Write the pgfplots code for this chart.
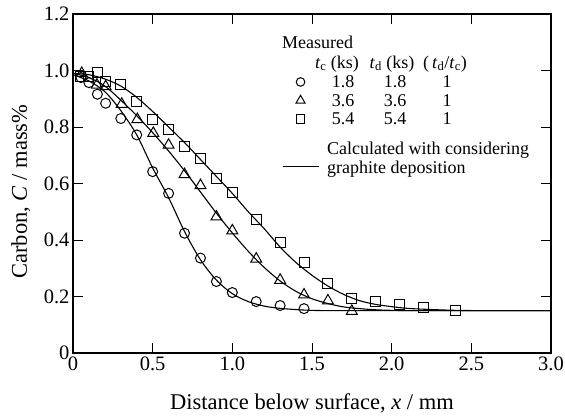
\documentclass[border=0pt]{standalone}
\usepackage{fontspec}
\setmainfont{Liberation Serif}
\usepackage{pgfplots}
\pgfplotsset{compat=1.18}
\pgfplotsset{
  markleg/.style={legend image code/.code={\path[draw=none,fill=none] (0pt,0pt) rectangle (36pt,0pt);
    \draw[##1, mark size=#1] plot coordinates {(18pt,6pt)};}},
  lineleg/.style={legend image code/.code={\draw[##1] (0pt,7pt) -- (36pt,7pt);}},
}

\begin{document}
\begin{tikzpicture}
\begin{axis}[
  scale only axis,
  width=478pt, height=339pt,
  xmin=0, xmax=3, ymin=0, ymax=1.2,
  xtick={0,0.5,...,3}, ytick={0,0.2,...,1.2},
  xticklabels={0,0.5,1.0,1.5,2.0,2.5,3.0},
  yticklabels={0,0.2,0.4,0.6,0.8,1.0,1.2},
  tick align=inside, tick pos=both,
  major tick length=10pt,
  tick style={black, line width=0.9pt},
  axis line style={line width=1.2pt},
  /pgf/number format/assume math mode=true,
  ticklabel style={font=\fontsize{20.5}{24}\selectfont},
  label style={font=\fontsize{22.5}{26}\selectfont},
  xlabel={Distance below surface, \textit{x} / mm},
  ylabel={Carbon, \textit{C} / mass\%},
  xlabel style={at={(rel axis cs:0.5,0)}, anchor=base, yshift=-57pt},
  ylabel style={at={([xshift=-46pt]rel axis cs:0,0.476)}, anchor=base},
  legend style={draw=none, fill=none, inner sep=0pt, outer sep=0pt,
    at={(axis cs:1.3117,0.9912)}, anchor=north west,
    font=\fontsize{18}{19}\selectfont, column sep=6pt, row sep=0pt,
    cells={anchor=base west, align=left, inner sep=0pt}},
  mark options={solid, fill=white, line width=1pt},
]
% calculated curves
\addplot[smooth, line width=1.1pt, forget plot] coordinates {
  (0,0.985) (0.1,0.963) (0.2,0.925) (0.3,0.858) (0.4,0.772) (0.5,0.655)
  (0.6,0.55) (0.7,0.43) (0.8,0.33) (0.9,0.258) (1.0,0.21) (1.1,0.182)
  (1.2,0.166) (1.3,0.158) (1.45,0.152) (1.6,0.15) (2.0,0.15) (3.0,0.15)
};
\addplot[smooth, line width=1.1pt, forget plot] coordinates {
  (0,0.99) (0.1,0.975) (0.2,0.945) (0.3,0.895) (0.4,0.84) (0.5,0.78)
  (0.6,0.715) (0.7,0.645) (0.8,0.57) (0.9,0.495) (1.0,0.425) (1.1,0.36)
  (1.2,0.303) (1.3,0.255) (1.4,0.218) (1.5,0.192) (1.6,0.175) (1.7,0.163)
  (1.8,0.157) (1.9,0.153) (2.0,0.151) (2.2,0.15) (3.0,0.15)
};
\addplot[smooth, line width=1.1pt, forget plot] coordinates {
  (0,0.99) (0.1,0.985) (0.2,0.97) (0.3,0.945) (0.4,0.905) (0.5,0.855)
  (0.6,0.8) (0.7,0.745) (0.8,0.685) (0.9,0.625) (1.0,0.565) (1.1,0.5)
  (1.2,0.44) (1.3,0.375) (1.4,0.32) (1.5,0.275) (1.6,0.237) (1.7,0.207)
  (1.8,0.185) (1.9,0.172) (2.0,0.164) (2.1,0.158) (2.2,0.155) (2.4,0.151)
  (2.6,0.15) (3.0,0.15)
};
% measured
\addplot[only marks, mark=o, mark size=5pt, markleg=4.3pt] coordinates {
  (0.05,0.975) (0.1,0.957) (0.153,0.916) (0.205,0.884) (0.3,0.83)
  (0.4,0.772) (0.5,0.642) (0.6,0.565) (0.7,0.424) (0.8,0.336)
  (0.9,0.253) (1.0,0.214) (1.15,0.182) (1.3,0.168) (1.45,0.157)
};
\addlegendentry{\rule[-6pt]{0pt}{19pt}\makebox[32pt]{1.8}\makebox[72pt]{1.8}\makebox[32pt]{1}}
\addplot[only marks, mark=triangle, mark size=6.3pt, markleg=5.2pt] coordinates {
  (0.055,0.99) (0.15,0.949) (0.205,0.943) (0.306,0.881) (0.404,0.827)
  (0.504,0.778) (0.6,0.736) (0.7,0.632) (0.8,0.593) (0.9,0.482)
  (1.0,0.433) (1.15,0.333) (1.3,0.258) (1.45,0.206) (1.6,0.185) (1.75,0.148)
};
\addlegendentry{\rule[-6pt]{0pt}{19pt}\makebox[32pt]{3.6}\makebox[72pt]{3.6}\makebox[32pt]{1}}
\addplot[only marks, mark=square, mark size=5pt, markleg=4.2pt] coordinates {
  (0.048,0.98) (0.1,0.98) (0.153,0.992) (0.207,0.962) (0.3,0.95)
  (0.4,0.891) (0.5,0.826) (0.6,0.791) (0.7,0.732) (0.8,0.69)
  (0.9,0.618) (1.0,0.568) (1.15,0.474) (1.3,0.392) (1.45,0.319)
  (1.6,0.247) (1.75,0.194) (1.9,0.183) (2.05,0.172) (2.2,0.162) (2.4,0.152)
};
\addlegendentry{\rule[-6pt]{0pt}{19pt}\makebox[32pt]{5.4}\makebox[72pt]{5.4}\makebox[32pt]{1}}
\addlegendimage{black, line width=1.1pt, lineleg}
\addlegendentry{\rule{0pt}{24pt}Calculated with considering\\graphite deposition}
% legend headers
\node[anchor=base west, inner sep=0pt, font=\fontsize{18}{19}\selectfont] at (axis cs:1.3117,1.0796) {Measured};
\node[anchor=base, font=\fontsize{18}{19}\selectfont] at (axis cs:1.657,1.0088) {\textit{t}\textsubscript{c} (ks)};
\node[anchor=base, font=\fontsize{18}{19}\selectfont] at (axis cs:2.002,1.0088) {\textit{t}\textsubscript{d} (ks)};
\node[anchor=base, font=\fontsize{18}{19}\selectfont] at (axis cs:2.335,1.0088) {(\,\textit{t}\textsubscript{d}/\textit{t}\textsubscript{c})};
\coordinate (bl) at (rel axis cs:0,0);
\coordinate (tr) at (rel axis cs:1,1);
\end{axis}
\pgfresetboundingbox
\path ([shift={(-73pt,-64pt)}]bl) rectangle ([shift={(14pt,14pt)}]tr);
\end{tikzpicture}
\end{document}
